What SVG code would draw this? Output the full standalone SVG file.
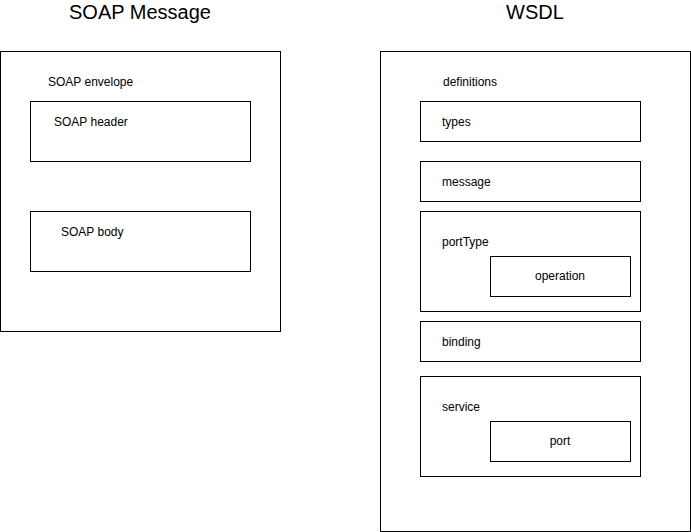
<svg xmlns="http://www.w3.org/2000/svg" width="691" height="532" viewBox="0 0 691 532">
<style>
rect{fill:#fff;stroke:#000;stroke-width:1}
text{font-family:"Liberation Sans",Arial,sans-serif;font-size:12px;fill:#000;dominant-baseline:central}
.t{font-size:20px;text-anchor:middle}
.m{text-anchor:middle}
</style>
<rect width="691" height="532" style="stroke:none"/>
<text class="t" x="140" y="12">SOAP Message</text>
<text class="t" x="535" y="12">WSDL</text>
<g id="soap-envelope"><rect x="0.5" y="51.5" width="280" height="280"/><text x="48" y="82">SOAP envelope</text></g>
<g id="soap-header"><rect x="30.5" y="101.5" width="220" height="60"/><text x="54" y="122">SOAP header</text></g>
<g id="soap-body"><rect x="30.5" y="211.5" width="220" height="60"/><text x="61" y="232">SOAP body</text></g>
<g id="definitions"><rect x="380.5" y="51.5" width="310" height="480"/><text x="443" y="82">definitions</text></g>
<g id="types"><rect x="420.5" y="101.5" width="220" height="40"/><text x="442" y="122">types</text></g>
<g id="message"><rect x="420.5" y="161.5" width="220" height="40"/><text x="442" y="182">message</text></g>
<g id="portType"><rect x="420.5" y="211.5" width="220" height="100"/><text x="442" y="242">portType</text></g>
<g id="operation"><rect x="490.5" y="256.5" width="140" height="40"/><text class="m" x="560" y="276">operation</text></g>
<g id="binding"><rect x="420.5" y="321.5" width="220" height="40"/><text x="442" y="342">binding</text></g>
<g id="service"><rect x="420.5" y="376.5" width="220" height="100"/><text x="442" y="407">service</text></g>
<g id="port"><rect x="490.5" y="421.5" width="140" height="40"/><text class="m" x="560" y="441">port</text></g>
<g id="connectors"></g>
</svg>
